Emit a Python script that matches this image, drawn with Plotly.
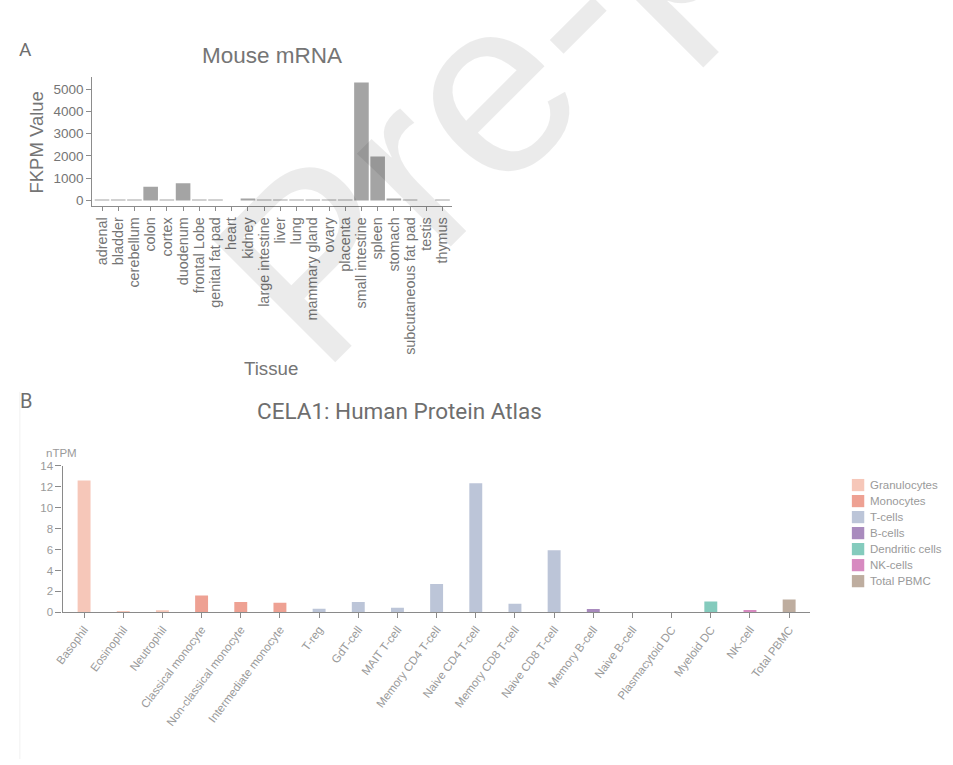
import plotly.graph_objects as go

# ---- Panel A: mouse tissue mRNA (FKPM) ----
tissues = ["adrenal", "bladder", "cerebellum", "colon", "cortex", "duodenum",
           "frontal Lobe", "genital fat pad", "heart", "kidney", "large intestine",
           "liver", "lung", "mammary gland", "ovary", "placenta", "small intestine",
           "spleen", "stomach", "subcutaneous fat pad", "testis", "thymus"]
fkpm = [30, 30, 30, 615, 30, 770, 30, 30, 0, 80, 30, 30, 30, 30, 25, 30,
        5300, 1975, 90, 30, 0, 30]
fkpm_ticks = [0, 1000, 2000, 3000, 4000, 5000]

# ---- Panel B: human blood cell types (nTPM) ----
cell_types = ["Basophil", "Eosinophil", "Neutrophil", "Classical monocyte",
              "Non-classical monocyte", "Intermediate monocyte", "T-reg", "GdT-cell",
              "MAIT T-cell", "Memory CD4 T-cell", "Naive CD4 T-cell",
              "Memory CD8 T-cell", "Naive CD8 T-cell", "Memory B-cell",
              "Naive B-cell", "Plasmacytoid DC", "Myeloid DC", "NK-cell", "Total PBMC"]
ntpm = [12.6, 0.1, 0.2, 1.6, 1.0, 0.92, 0.35, 1.0, 0.45, 2.7, 12.35, 0.82,
        5.95, 0.31, 0.0, 0.0, 1.04, 0.22, 1.23]
cell_groups = ["Granulocytes"] * 3 + ["Monocytes"] * 3 + ["T-cells"] * 7 + \
              ["B-cells"] * 2 + ["Dendritic cells"] * 2 + ["NK-cells", "Total PBMC"]
group_names = ["Granulocytes", "Monocytes", "T-cells", "B-cells",
               "Dendritic cells", "NK-cells", "Total PBMC"]
group_colors = ["#f6c7b9", "#eea193", "#bcc5d8", "#a98bbe",
                "#84cbbd", "#d78ac0", "#bead9f"]
ntpm_ticks = [0, 2, 4, 6, 8, 10, 12, 14]

W, H = 953, 765
SANS = "Liberation Sans, Arial, sans-serif"
GREY_A = "#757575"
GREY_B = "#9a9a9a"


def px(x):
    return x / W


def py(y):
    return 1 - y / H


fig = go.Figure()

fig.add_trace(go.Bar(
    x=tissues, y=fkpm, xaxis="x", yaxis="y", width=0.9,
    marker=dict(color="#a4a4a4", line=dict(width=0)), showlegend=False,
))

for g, c in zip(group_names, group_colors):
    xs = [ct for ct, gg in zip(cell_types, cell_groups) if gg == g]
    ys = [v for v, gg in zip(ntpm, cell_groups) if gg == g]
    fig.add_trace(go.Bar(
        x=xs, y=ys, xaxis="x2", yaxis="y2", width=0.33, name=g,
        marker=dict(color=c, line=dict(width=0)), showlegend=False,
    ))

fig.update_layout(
    width=W, height=H, margin=dict(l=0, r=0, t=0, b=0),
    paper_bgcolor="white", plot_bgcolor="rgba(0,0,0,0)",
    barmode="overlay", showlegend=False,
    font=dict(family=SANS, color=GREY_A),
    xaxis=dict(
        anchor="y",
        domain=[px(85), px(448)], range=[-0.6, len(tissues) - 0.4],
        type="category", categoryorder="array", categoryarray=tissues,
        tickmode="array", tickvals=tissues, ticktext=tissues,
        showline=True, linecolor="#8c8c8c", linewidth=1.3,
        ticks="outside", ticklen=4, tickcolor="#8c8c8c", tickwidth=1.1,
        tickangle=-90, tickfont=dict(size=14.4, color=GREY_A, family=SANS),
        showgrid=False, zeroline=False, fixedrange=True,
    ),
    yaxis=dict(
        anchor="x",
        domain=[py(203.5), py(71.7)], range=[-265, 5565],
        showline=True, linecolor="#8c8c8c", linewidth=1.3,
        ticks="outside", ticklen=5, tickcolor="#8c8c8c", tickwidth=1.1,
        tickvals=fkpm_ticks, ticktext=[str(t) for t in fkpm_ticks],
        tickfont=dict(size=13.5, color=GREY_A, family=SANS),
        showgrid=False, zeroline=False, fixedrange=True,
    ),
    xaxis2=dict(
        anchor="y2",
        domain=[px(55), px(808.3)], range=[-0.55, len(cell_types) - 0.48],
        type="category", categoryorder="array", categoryarray=cell_types,
        tickmode="array", tickvals=cell_types, ticktext=cell_types,
        showline=True, linecolor="#8a8a8a", linewidth=1.3,
        ticks="outside", ticklen=5, tickcolor="#8a8a8a", tickwidth=1.1,
        tickangle=-53, tickfont=dict(size=11.5, color=GREY_B, family=SANS),
        showgrid=False, zeroline=False, fixedrange=True,
    ),
    yaxis2=dict(
        anchor="x2",
        domain=[py(616), py(467.3)], range=[0, 14],
        showline=True, linecolor="#8a8a8a", linewidth=1.3,
        ticks="outside", ticklen=6, tickcolor="#8a8a8a", tickwidth=1.1,
        tickvals=ntpm_ticks, ticktext=[str(t) for t in ntpm_ticks],
        tickfont=dict(size=11.5, color=GREY_B, family=SANS),
        showgrid=False, zeroline=False, fixedrange=True,
    ),
)

annotations = [
    dict(text="A", x=px(18), y=py(44), font=dict(size=19, color="#6e6e6e", family="Roboto")),
    dict(text="B", x=px(18), y=py(401), font=dict(size=20, color="#6e6e6e", family="Roboto")),
    dict(text="Mouse mRNA", x=px(266.5), y=py(50), font=dict(size=22.5, color=GREY_A, family=SANS)),
    dict(text="FKPM Value", x=px(28.5), y=py(138.5), textangle=-90,
         font=dict(size=18.5, color=GREY_A, family=SANS)),
    dict(text="Tissue", x=px(265.5), y=py(368), font=dict(size=18.7, color=GREY_A, family=SANS)),
    dict(text="CELA1: Human Protein Atlas", x=px(395), y=py(411),
         font=dict(size=22.5, color="#6e6e6e", family="Roboto")),
    dict(text="nTPM", x=px(54), y=py(454), font=dict(size=11.5, color=GREY_B, family=SANS)),
]

# legend: one swatch and label per cell group
shapes = []
for i, (g, c) in enumerate(zip(group_names, group_colors)):
    yc = 486.7 + i * 16.27
    shapes.append(dict(type="rect", xref="paper", yref="paper",
                       x0=px(851), x1=px(863.5), y0=py(yc + 6.2), y1=py(yc - 6.2),
                       fillcolor=c, line=dict(width=0)))
    annotations.append(dict(text=g, x=px(867.5), y=py(yc), xanchor="left",
                            font=dict(size=11.5, color=GREY_B, family=SANS)))

# faint frame line at the left of panel B
shapes.append(dict(type="line", xref="paper", yref="paper",
                   x0=px(12), x1=px(12), y0=py(392), y1=py(765),
                   line=dict(color="#f1f1f1", width=1)))

# diagonal preprint stamp across panel A
annotations.append(dict(text="Pre-proof", x=px(626), y=py(-60), textangle=-45,
                        font=dict(size=250, color="rgba(0,0,0,0.08)",
                                  family="Liberation Sans"),
                        xanchor="center", yanchor="middle"))

for a in annotations:
    a.setdefault("xref", "paper")
    a.setdefault("yref", "paper")
    a.setdefault("showarrow", False)
    a.setdefault("xanchor", "center")
    a.setdefault("yanchor", "middle")

fig.update_layout(annotations=annotations, shapes=shapes)

fig.write_html("out.html")
